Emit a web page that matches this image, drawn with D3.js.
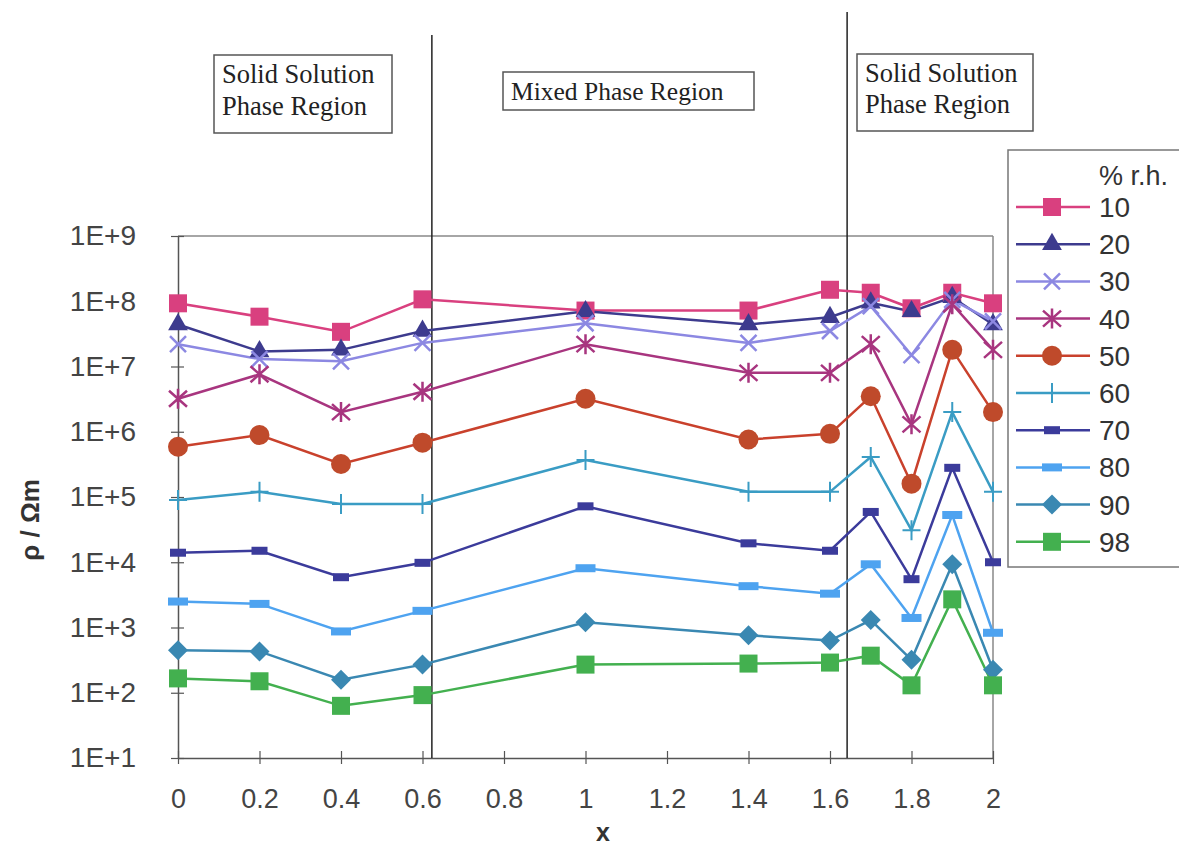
<!DOCTYPE html>
<html><head><meta charset="utf-8">
<script src="https://cdn.jsdelivr.net/npm/d3@7"></script>
<style>body{margin:0;background:#fff}svg{display:block}</style>
</head><body><svg id="c" width="1179" height="847"></svg>
<script>
const xValues = [0, 0.2, 0.4, 0.6, 1, 1.4, 1.6, 1.7, 1.8, 1.9, 2];
const seriesNames = ["10","20","30","40","50","60","70","80","90","98"];
const s10 = [9.3e7, 5.8e7, 3.4e7, 1.07e8, 7.2e7, 7.2e7, 1.5e8, 1.35e8, 7.8e7, 1.35e8, 9.3e7];
const s20 = [4.4e7, 1.7e7, 1.8e7, 3.5e7, 7e7, 4.4e7, 5.7e7, 9.5e7, 7e7, 1.15e8, 4.4e7];
const s30 = [2.2e7, 1.3e7, 1.2e7, 2.3e7, 4.6e7, 2.3e7, 3.5e7, 8.4e7, 1.5e7, 1.05e8, 4.9e7];
const s40 = [3.2e6, 7.6e6, 2.0e6, 4.1e6, 2.2e7, 8.0e6, 8.0e6, 2.2e7, 1.3e6, 9e7, 1.8e7];
const s50 = [5.9e5, 8.9e5, 3.2e5, 6.8e5, 3.2e6, 7.6e5, 9.3e5, 3.5e6, 1.6e5, 1.8e7, 2.0e6];
const s60 = [9e4, 1.2e5, 7.8e4, 7.8e4, 3.7e5, 1.2e5, 1.2e5, 4.1e5, 3.1e4, 2.0e6, 1.2e5];
const s70 = [1.4e4, 1.5e4, 5.9e3, 9.8e3, 7.2e4, 1.95e4, 1.5e4, 5.9e4, 5.5e3, 2.8e5, 1.0e4];
const s80 = [2.5e3, 2.3e3, 870, 1.8e3, 8.1e3, 4.3e3, 3.3e3, 9.3e3, 1.4e3, 5.3e4, 830];
const s90 = [450, 430, 158, 270, 1200, 760, 630, 1300, 320, 9.3e3, 225];
const s98 = [166, 150, 63, 92, 270, 280, 290, 370, 130, 2.7e3, 130];
const seriesValues = [s10, s20, s30, s40, s50, s60, s70, s80, s90, s98];
const xTicks = [0, 0.2, 0.4, 0.6, 0.8, 1, 1.2, 1.4, 1.6, 1.8, 2];
const xTickLabels = ["0","0.2","0.4","0.6","0.8","1","1.2","1.4","1.6","1.8","2"];
const yTicks = [1e1, 1e2, 1e3, 1e4, 1e5, 1e6, 1e7, 1e8, 1e9];
const yTickLabels = ["1E+1","1E+2","1E+3","1E+4","1E+5","1E+6","1E+7","1E+8","1E+9"];
const phaseBoundaries = [0.623, 1.642];
const regionLabels = [["Solid Solution","Phase Region"],["Mixed Phase Region"],["Solid Solution","Phase Region"]];
const legendTitle = "% r.h.";

const colors = ["#d9407f","#3d3b8e","#8c88e2","#a8357f","#c9412c","#3a9cc4","#3b3b9b","#4ea3f0","#3a88b2","#43b04f"];
const markers = ["square","triangle","times","asterisk","circle","plus","dash","wdash","diamond","square"];

const sans = "Liberation Sans, Arial, sans-serif";
const svg = d3.select("#c");
const x = d3.scaleLinear().domain([0, 2]).range([178, 993]);
const y = d3.scaleLog().domain([1e1, 1e9]).range([758, 236]);

// frame
svg.append("line").attr("x1", x(0)).attr("x2", x(2)).attr("y1", y(1e9)).attr("y2", y(1e9)).attr("stroke", "#888").attr("stroke-width", 1.5);
svg.append("line").attr("x1", x(2)).attr("x2", x(2)).attr("y1", y(1e9)).attr("y2", y(1e1)).attr("stroke", "#888").attr("stroke-width", 1.5);

// axes
const xAxis = d3.axisBottom(x).tickValues(xTicks).tickFormat((d, i) => xTickLabels[i]).tickSize(0).tickPadding(31);
const gx = svg.append("g").attr("transform", `translate(0,${y(1e1)})`).call(xAxis);
gx.select(".domain").attr("stroke", "#555").attr("stroke-width", 1.5);
gx.selectAll(".tick text").attr("font-family", sans).attr("font-size", 27).attr("fill", "#444");
gx.selectAll(".tick").append("line").attr("y1", -7).attr("y2", 6).attr("stroke", "#555").attr("stroke-width", 1.2);

const yAxis = d3.axisLeft(y).tickValues(yTicks).tickFormat((d, i) => yTickLabels[i]).tickSize(0).tickPadding(42);
const gy = svg.append("g").attr("transform", `translate(${x(0)},0)`).call(yAxis);
gy.select(".domain").attr("stroke", "#555").attr("stroke-width", 1.5);
gy.selectAll(".tick text").attr("font-family", sans).attr("font-size", 28).attr("fill", "#444");
gy.selectAll(".tick").append("line").attr("x1", -7).attr("x2", 6).attr("stroke", "#555").attr("stroke-width", 1.2);

// axis titles
svg.append("text").attr("x", 603).attr("y", 841).attr("text-anchor", "middle")
  .attr("font-family", sans).attr("font-weight", "bold").attr("font-size", 25).attr("fill", "#333").text("x");
svg.append("text").attr("transform", "translate(39,520) rotate(-90)").attr("text-anchor", "middle")
  .attr("font-family", sans).attr("font-weight", "bold").attr("font-size", 26).attr("fill", "#333").text("ρ / Ωm");

// phase boundary lines
const boundaryTops = [35, 12];
phaseBoundaries.forEach((b, i) => {
  svg.append("line").attr("x1", x(b)).attr("x2", x(b)).attr("y1", boundaryTops[i]).attr("y2", y(1e1))
    .attr("stroke", "#222").attr("stroke-width", 1.5);
});

// region label boxes
const boxes = [{x: 214, y: 55, w: 178, h: 78, b: [83, 115]}, {x: 503, y: 72, w: 251, h: 38, b: [100]}, {x: 857, y: 54, w: 176, h: 77, b: [82, 113]}];
regionLabels.forEach((lines, i) => {
  const bx = boxes[i];
  svg.append("rect").attr("x", bx.x).attr("y", bx.y).attr("width", bx.w).attr("height", bx.h)
    .attr("fill", "#fff").attr("stroke", "#555").attr("stroke-width", 1.5);
  lines.forEach((t, j) => {
    svg.append("text").attr("x", bx.x + 8).attr("y", bx.b[j])
      .attr("font-family", "Liberation Serif, Times New Roman, serif").attr("font-size", i === 1 ? 25.5 : 26.5).attr("fill", "#222").text(t);
  });
});

function marker(g, type, color, cx, cy) {
  const sw = 2.5;
  if (type === "square") {
    g.append("rect").attr("x", cx - 9).attr("y", cy - 9).attr("width", 18).attr("height", 18).attr("fill", color);
  } else if (type === "triangle") {
    g.append("path").attr("d", d3.symbol(d3.symbolTriangle, 170)()).attr("transform", `translate(${cx},${cy})`).attr("fill", color);
  } else if (type === "times") {
    g.append("path").attr("d", `M${cx-8},${cy-8}L${cx+8},${cy+8}M${cx-8},${cy+8}L${cx+8},${cy-8}`).attr("stroke", color).attr("stroke-width", sw).attr("fill", "none");
  } else if (type === "asterisk") {
    g.append("path").attr("d", `M${cx-9},${cy-8}L${cx+9},${cy+8}M${cx-9},${cy+8}L${cx+9},${cy-8}M${cx},${cy-10}L${cx},${cy+10}`).attr("stroke", color).attr("stroke-width", sw).attr("fill", "none");
  } else if (type === "circle") {
    g.append("circle").attr("cx", cx).attr("cy", cy).attr("r", 10).attr("fill", color);
  } else if (type === "plus") {
    g.append("path").attr("d", `M${cx},${cy-10}L${cx},${cy+10}M${cx-9},${cy}L${cx+9},${cy}`).attr("stroke", color).attr("stroke-width", 2).attr("fill", "none");
  } else if (type === "dash") {
    g.append("rect").attr("x", cx - 8).attr("y", cy - 4).attr("width", 16).attr("height", 8).attr("fill", color);
  } else if (type === "wdash") {
    g.append("rect").attr("x", cx - 10).attr("y", cy - 4).attr("width", 20).attr("height", 8).attr("fill", color);
  } else if (type === "diamond") {
    g.append("path").attr("d", `M${cx},${cy-10}L${cx+10},${cy}L${cx},${cy+10}L${cx-10},${cy}Z`).attr("fill", color);
  }
}

const line = d3.line().x(d => x(d[0])).y(d => y(d[1]));
const plot = svg.append("g");
seriesValues.forEach((vals, si) => {
  const pts = xValues.map((xv, i) => [xv, vals[i]]);
  plot.append("path").attr("d", line(pts)).attr("fill", "none").attr("stroke", colors[si]).attr("stroke-width", 2.5);
});
seriesValues.forEach((vals, si) => {
  const g = plot.append("g");
  xValues.forEach((xv, i) => marker(g, markers[si], si === 4 ? "#bf4a2b" : colors[si], x(xv), y(vals[i])));
});

// legend
const lg = svg.append("g");
lg.append("rect").attr("x", 1008).attr("y", 150).attr("width", 190).attr("height", 417).attr("fill", "#fff").attr("stroke", "#777").attr("stroke-width", 1.5);
lg.append("text").attr("x", 1099).attr("y", 185).attr("font-family", sans).attr("font-size", 27).attr("fill", "#333").text(legendTitle);
seriesNames.forEach((n, i) => {
  const ly = 207 + i * 37.2;
  lg.append("line").attr("x1", 1016).attr("x2", 1090).attr("y1", ly).attr("y2", ly).attr("stroke", colors[i]).attr("stroke-width", 2.5);
  marker(lg, markers[i], i === 4 ? "#bf4a2b" : colors[i], 1052, ly);
  lg.append("text").attr("x", 1099).attr("y", ly + 10).attr("font-family", sans).attr("font-size", 28).attr("fill", "#333").text(n);
});
</script></body></html>
